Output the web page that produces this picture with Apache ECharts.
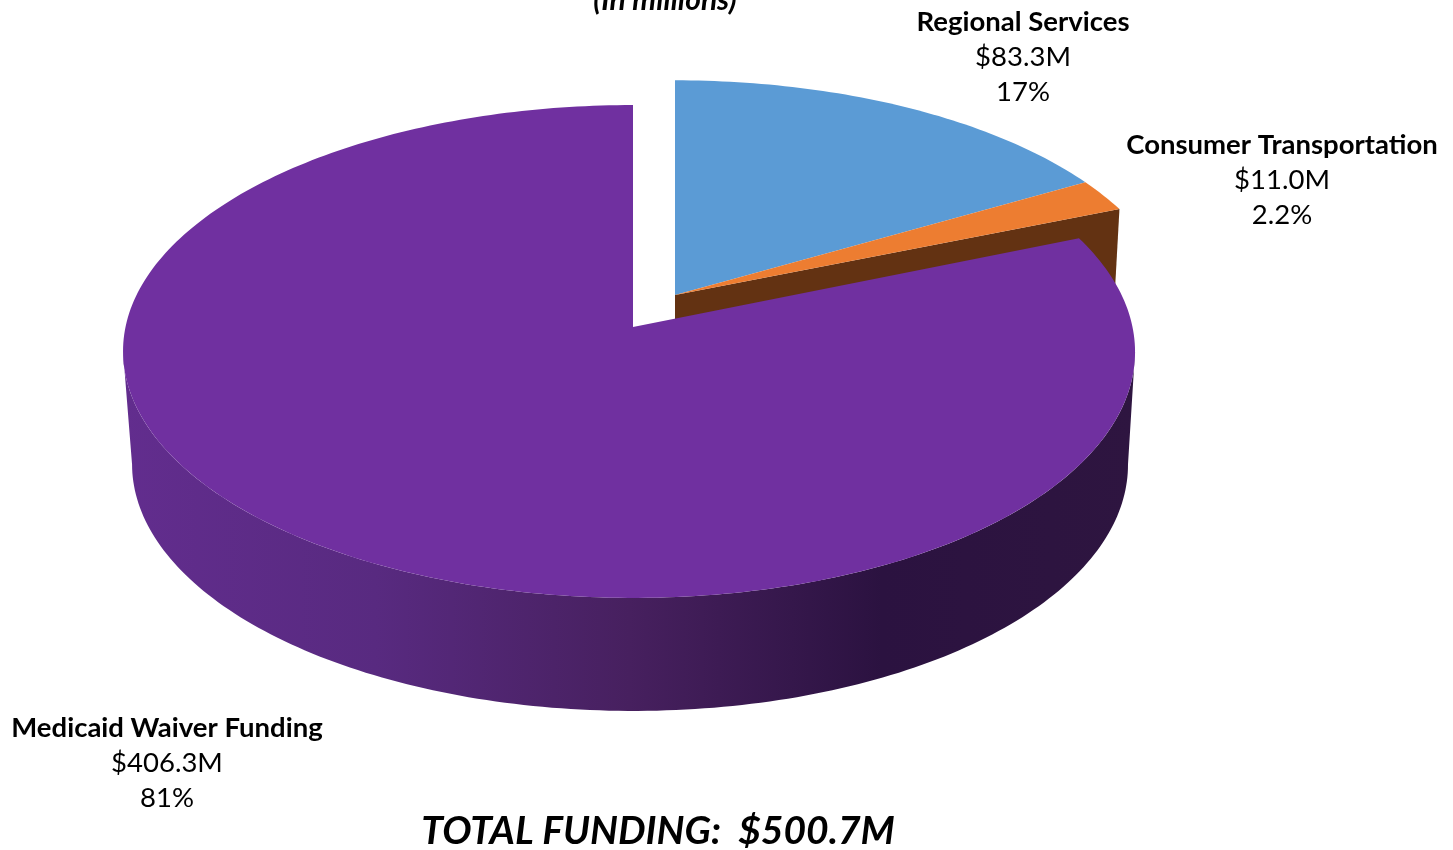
<!DOCTYPE html>
<html><head><meta charset="utf-8">
<style>html,body{margin:0;padding:0;background:#fff}#c{width:1453px;height:850px}</style>
<script src="https://cdn.jsdelivr.net/npm/echarts@6/dist/echarts.min.js"></script>
</head><body><div id="c"></div>
<script>
const categories = ['Regional Services', 'Consumer Transportation', 'Medicaid Waiver Funding'];
const amounts = [83.3, 11.0, 406.3];
const amountLabels = ['$83.3M', '$11.0M', '$406.3M'];
const percentLabels = ['17%', '2.2%', '81%'];
const colors = ['#5B9BD5', '#ED7D31', '#7030A0'];
const subtitleText = '(In millions)';
const totalText = 'TOTAL FUNDING:  $500.7M';

const FONT = 'Lato, "Open Sans", sans-serif';
const K = 0.0994;
const TANGENT = Math.acos(-K) * 180 / Math.PI;
const discs = [
  {top: {x: 675, y: 295, a: 236, b: 498, e: 0}, bot: {x: 675, y: 408, a: 236, b: 491, e: 0}},
  {top: {x: 675, y: 295, a: 236, b: 498, e: 0}, bot: {x: 675, y: 408, a: 236, b: 491, e: 0}},
  {top: {x: 633, y: 327, a: 244, b: 503.5, e: -4}, bot: {x: 633, y: 440, a: 244, b: 495.5, e: -3}}
];
const labelAt = [[1023, 22], [1282, 145], [167, 728]];
const LINE = 35;

function project(d, deg) {
  const t = deg * Math.PI / 180, s = Math.sin(t), c = Math.cos(t), w = 1 + K * c;
  return [d.x + d.b * s / w + d.e * s * s, d.y - d.a * c / w];
}
function rim(d, from, to) {
  const pts = [], n = Math.max(2, Math.ceil(Math.abs(to - from)));
  for (let i = 0; i <= n; i++) pts.push(project(d, from + (to - from) * i / n));
  return pts;
}
const total = amounts.reduce((a, b) => a + b, 0);
let running = 0;
const seriesData = amounts.map((v, i) => {
  const start = running / total * 360;
  running += v;
  return {name: categories[i], value: [start, running / total * 360, v]};
});

function renderItem(params, api) {
  const i = params.dataIndex, start = api.value(0), end = api.value(1);
  const d = discs[i], children = [];
  if (i === 1) {
    children.push({type: 'polygon', shape: {points: [
      [d.top.x, d.top.y], project(d.top, end), project(d.bot, end), [d.bot.x, d.bot.y]
    ]}, style: {fill: '#633212'}});
  }
  if (i === 2) {
    const wall = rim(d.top, TANGENT, 360 - TANGENT).concat(rim(d.bot, 360 - TANGENT, TANGENT));
    children.push({type: 'polygon', shape: {points: wall}, style: {
      fill: new echarts.graphic.LinearGradient(0, 0, 1, 0, [
        {offset: 0, color: '#622D8E'},
        {offset: 0.25, color: '#582A80'},
        {offset: 0.5, color: '#47205F'},
        {offset: 0.75, color: '#2B1240'},
        {offset: 1, color: '#2E1540'}
      ])
    }});
  }
  children.push({type: 'polygon',
    shape: {points: [[d.top.x, d.top.y]].concat(rim(d.top, start, end))},
    style: {fill: colors[i]}});
  const [lx, ly] = labelAt[i];
  const lines = [categories[i], amountLabels[i], percentLabels[i]];
  lines.forEach((t, j) => children.push({type: 'text', z2: 10, style: {
    x: lx, y: ly + j * LINE, text: t, fill: '#000', align: 'center', verticalAlign: 'middle',
    font: (j === 0 ? 'bold ' : '') + '27.5px ' + FONT
  }}));
  return {type: 'group', children};
}

const chart = echarts.init(document.getElementById('c'), null, {renderer: 'canvas'});
chart.setOption({
  animation: false,
  backgroundColor: '#fff',
  title: [
    {text: subtitleText, left: 665, top: -15, textAlign: 'center', padding: 0,
     textStyle: {fontFamily: FONT, fontSize: 30, fontWeight: 'bold', fontStyle: 'italic', color: '#000'}},
    {text: totalText, left: 658, top: 812, textAlign: 'center', padding: 0,
     textStyle: {fontFamily: FONT, fontSize: 39, fontWeight: 'bold', fontStyle: 'italic', color: '#000'}}
  ],
  series: [{type: 'custom', coordinateSystem: 'none', renderItem, data: seriesData, silent: true, clip: false}]
});
</script></body></html>
